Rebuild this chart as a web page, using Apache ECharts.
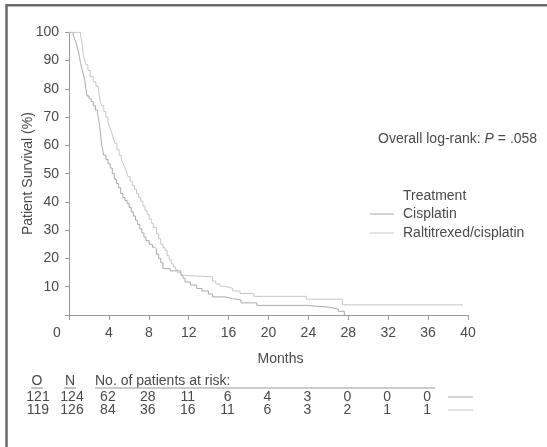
<!DOCTYPE html>
<html>
<head>
<meta charset="utf-8">
<script src="https://cdn.jsdelivr.net/npm/echarts@6/dist/echarts.min.js"></script>
<style>html,body{margin:0;padding:0;background:#fff}#main{width:547px;height:447px}</style>
</head>
<body>
<div id="main"></div>
<script>
// ---- data ----
const cisMonths = [0,0.42,0.58,0.74,0.85,0.95,1.06,1.16,1.27,1.38,1.48,1.59,1.69,1.8,2.01,2.22,2.43,2.65,2.86,2.96,3.07,3.17,3.28,3.39,3.49,3.7,3.91,4.13,4.34,4.55,4.76,4.97,5.18,5.4,5.61,5.82,6.03,6.24,6.45,6.67,6.88,7.09,7.3,7.51,7.72,8.04,8.36,8.57,8.78,8.99,9.2,9.42,10.16,11.21,11.43,11.64,12.17,12.8,13.33,13.97,14.39,15.66,16.4,17.25,18.83,23.8,26.0,27.0,27.6];
const cisSurv   = [100,99,97.5,96,94.5,93,91,89,87.5,86,84.5,83,80,77.5,76.5,75.5,74,72.5,71,69.5,67,64,60,58,56.5,55,53.5,52,50,48,46.5,45,43,41.5,40.5,39.5,38,36.5,35,33.5,32,30.5,29,27.5,26.3,25,24,23.4,21.5,20,18.5,16.4,15.6,14.2,13,11.7,10.6,9.4,8.5,7.4,6.4,5.8,5.3,4.3,3.4,2.8,2.1,1.3,0];
const ralMonths = [0,1.16,1.32,1.43,1.53,1.69,1.9,2.12,2.43,2.7,2.93,3.02,3.1,3.28,3.49,3.7,3.91,4.09,4.28,4.44,4.6,4.81,5.03,5.24,5.43,5.61,5.77,5.92,6.14,6.35,6.56,6.77,6.98,7.19,7.41,7.62,7.83,8.04,8.25,8.46,8.78,8.99,9.2,9.42,9.63,9.84,10.05,10.26,10.47,10.69,10.9,11.21,11.64,14.39,14.71,15.13,15.55,16.4,17.14,18.52,23.8,27.4,39.5];
const ralSurv   = [100,98.5,96,92,90.5,88.5,86.5,84.3,82.5,81,80.2,78,76,74,72,70,68,66.6,64.5,62.5,60.7,58.5,56.5,55,53.6,52,50.5,48.9,47.3,45.8,44.5,43,41.5,40.2,38.5,37,35.5,34,32.5,31,28.7,27,25,23.8,22.8,21,19.5,18.1,17,16,15,14,13.5,12,11,10.2,9.5,8.5,7.6,6.6,5.6,3.6,3.6];

const seriesNames = ['Cisplatin', 'Raltitrexed/cisplatin'];
const riskMonths = [4,8,12,16,20,24,28,32,36];
const riskCis = [62,28,11,6,4,3,0,0,0];
const riskRal = [84,36,16,11,6,3,2,1,1];
const obsCounts = [121,119];
const nCounts = [124,126];

const FONT = '"Liberation Sans", Arial, sans-serif';
const TXT = '#4a4a4a';
const C1 = '#a9a9a9', C2 = '#c6c6c6';

const zip = (a,b) => a.map((v,i)=>[v,b[i]]);

const chart = echarts.init(document.getElementById('main'));
chart.setOption({
  animation: false,
  textStyle: {fontFamily: FONT, color: TXT},
  grid: {left: 69, right: 79, top: 32.3, bottom: 132},
  xAxis: {
    type: 'value', min: 0, max: 40, interval: 4,
    name: 'Months', nameLocation: 'middle', nameGap: 37, nameMoveOverlap: false,
    nameTextStyle: {fontSize: 14, color: TXT, fontFamily: FONT, padding: [0,0,0,24]},
    axisLine: {lineStyle: {color: '#999', width: 1}},
    axisTick: {length: 5, lineStyle: {color: '#999'}},
    axisLabel: {
      fontSize: 14, color: TXT, margin: 11, fontFamily: FONT,
      formatter: v => v === 0 ? '{z|0}' : String(v),
      rich: {z: {fontSize: 14, color: TXT, fontFamily: FONT, padding: [0,24,0,0]}}
    },
    splitLine: {show: false}
  },
  yAxis: {
    type: 'value', min: 0, max: 100, interval: 10,
    name: 'Patient Survival (%)', nameLocation: 'middle', nameGap: 34, nameMoveOverlap: false,
    nameTextStyle: {fontSize: 14, color: TXT, fontFamily: FONT},
    axisLine: {show: true, lineStyle: {color: '#999', width: 1}},
    axisTick: {show: true, length: 4, lineStyle: {color: '#999'}},
    axisLabel: {fontSize: 14, color: TXT, margin: 10, fontFamily: FONT,
      formatter: v => v === 0 ? '' : String(v)},
    splitLine: {show: false}
  },
  legend: {
    data: seriesNames, orient: 'vertical', left: 370, top: 207, padding: 0,
    icon: 'rect', itemWidth: 24, itemHeight: 1, itemGap: 5,
    textStyle: {fontSize: 14, color: TXT, fontFamily: FONT, padding: [0,0,0,4]}
  },
  series: [
    {name: seriesNames[0], type: 'line', step: 'end', symbol: 'none',
     lineStyle: {color: C1, width: 1}, itemStyle: {color: C1},
     data: zip(cisMonths, cisSurv)},
    {name: seriesNames[1], type: 'line', step: 'end', symbol: 'none',
     lineStyle: {color: C2, width: 1}, itemStyle: {color: C2},
     data: zip(ralMonths, ralSurv)}
  ]
});

const txt = (text, x, y, align) => ({
  type: 'text', x: x, y: y, silent: true,
  style: {text: text, fill: TXT, fontSize: 14, fontFamily: FONT, align: align || 'center', verticalAlign: 'middle'}
});
const ln = (x1, y1, x2, y2, c, w) => ({
  type: 'line', silent: true, shape: {x1, y1, x2, y2}, style: {stroke: c, lineWidth: w || 1}
});

const px = m => chart.convertToPixel({xAxisIndex: 0}, m);
const g = [];
g.push({type: 'rect', silent: true, shape: {x: 6.5, y: 5.3, width: 800, height: 800},
        style: {fill: 'none', stroke: '#6a6a6a', lineWidth: 2.5}});
g.push({type: 'text', x: 378, y: 139, silent: true, style: {
  text: '{a|Overall log-rank: }{b|P}{a| = .058}', align: 'left', verticalAlign: 'middle',
  rich: {a: {fontSize: 14, fontFamily: FONT, fill: TXT, color: TXT},
         b: {fontSize: 14, fontFamily: FONT, fontStyle: 'italic', fill: TXT, color: TXT}}
}});
g.push(txt('Treatment', 403, 196, 'left'));

// risk table
const yHead = 381, yUl = 388, yRows = [397, 410];
g.push(txt('O', 37, yHead));
g.push(txt('N', 70, yHead));
g.push(ln(31, yUl, 43, yUl, '#888'));
g.push(ln(64, yUl, 76, yUl, '#888'));
g.push(txt('No. of patients at risk:', 95, yHead, 'left'));
g.push(ln(95, yUl, px(36.7), yUl, '#999'));
const rows = [riskCis, riskRal];
const cols = [C1, C2];
rows.forEach((r, i) => {
  g.push(txt(String(obsCounts[i]), 38, yRows[i]));
  g.push(txt(String(nCounts[i]), 72, yRows[i]));
  r.forEach((v, j) => g.push(txt(String(v), px(riskMonths[j]) - 1, yRows[i])));
  g.push(ln(px(38), yRows[i], px(40.5), yRows[i], cols[i], 1));
});
chart.setOption({graphic: g});
</script>
</body>
</html>
